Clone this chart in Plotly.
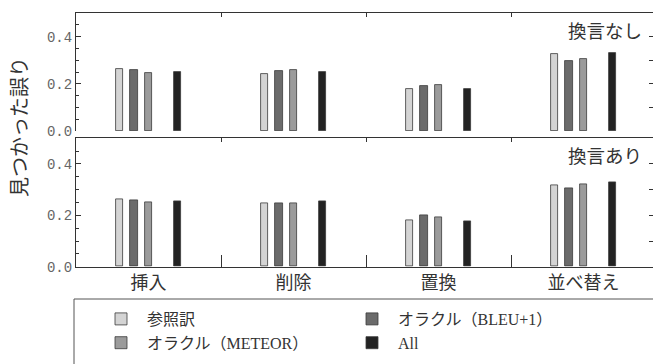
import plotly.graph_objects as go

categories = ["挿入", "削除", "置換", "並べ替え"]
series_names = ["参照訳", "オラクル（BLEU+1）", "オラクル（METEOR）", "All"]
series_colors = ["#d4d4d4", "#6b6b6b", "#9b9b9b", "#222222"]

# top panel: 換言なし
top_ref = [0.261, 0.242, 0.177, 0.325]
top_bleu = [0.257, 0.254, 0.192, 0.298]
top_meteor = [0.246, 0.257, 0.195, 0.304]
top_all = [0.252, 0.250, 0.177, 0.329]

# bottom panel: 換言あり
bot_ref = [0.264, 0.248, 0.180, 0.318]
bot_bleu = [0.257, 0.246, 0.201, 0.306]
bot_meteor = [0.251, 0.248, 0.192, 0.319]
bot_all = [0.253, 0.253, 0.177, 0.330]

panel_labels = ["換言なし", "換言あり"]
y_ticks = [0.0, 0.2, 0.4]
y_ticktext = ["0.0", "0.2", "0.4"]

W, H = 653, 364
L = 76
slot = [-2, -1, 0, 2]
bar_w = 0.052

fig = go.Figure()

panels = [
    ([top_ref, top_bleu, top_meteor, top_all], "x", "y", True),
    ([bot_ref, bot_bleu, bot_meteor, bot_all], "x", "y2", False),
]
for vals, xa, ya, show in panels:
    for i, (name, col, v) in enumerate(zip(series_names, series_colors, vals)):
        fig.add_trace(go.Bar(
            x=[c + slot[i] * 0.1 for c in range(len(categories))],
            y=v, width=bar_w, name=name, showlegend=show,
            marker=dict(color=col, line=dict(color="#3a3a3a", width=0.8)),
            xaxis=xa, yaxis=ya,
        ))

def py(px):
    return (H - px) / H

plot_w = W - L
xr = [-0.5, -0.5 + plot_w / 145.0]
top_dom = [py(131), py(13)]
bot_dom = [py(266.7), py(138.3)]

axcol = "#333333"
tickfont = dict(family="Liberation Mono", size=14, color="#666666")
bticks = [0.5, 1.5, 2.5]

fig.update_layout(
    width=W, height=H, autosize=False,
    margin=dict(l=L, r=0, t=0, b=0, autoexpand=False),
    plot_bgcolor="white", paper_bgcolor="white",
    bargap=0, barmode="overlay",
    font=dict(family="Liberation Serif, Noto Sans CJK JP", color="#333333"),
    # bottom x axis (category labels + boundary ticks)
    xaxis=dict(range=xr, domain=[0, 1], anchor="y2",
               tickvals=list(range(len(categories))), ticktext=categories,
               ticks="", showgrid=False, zeroline=False,
               showline=True, linecolor=axcol, linewidth=1,
               tickfont=dict(family="Noto Sans CJK JP", size=18, color="#333333"),
               minor=dict(tickvals=bticks, ticks="inside", ticklen=12,
                          tickcolor=axcol, showgrid=False)),
    # top panel bottom axis
    xaxis2=dict(range=xr, domain=[0, 1], anchor="y", matches="x",
                showticklabels=False, ticks="", showgrid=False, zeroline=False,
                showline=True, linecolor=axcol, linewidth=1,
                tickvals=bticks,
                minor=dict(tickvals=bticks, ticks="inside", ticklen=12,
                           tickcolor=axcol, showgrid=False)),
    # top borders
    xaxis3=dict(range=xr, overlaying="x", anchor="y", side="top",
                showticklabels=False, showgrid=False, zeroline=False,
                showline=True, linecolor=axcol, linewidth=1,
                tickvals=bticks, ticks="inside", ticklen=4, tickcolor=axcol),
    xaxis4=dict(range=xr, overlaying="x", anchor="y2", side="top",
                showticklabels=False, showgrid=False, zeroline=False,
                showline=True, linecolor=axcol, linewidth=1,
                tickvals=bticks, ticks="inside", ticklen=4, tickcolor=axcol),
    yaxis=dict(domain=top_dom, range=[0, 0.5], anchor="x",
               tickvals=y_ticks, ticktext=y_ticktext, tickfont=tickfont,
               ticks="inside", ticklen=5, tickcolor=axcol,
               showline=True, linecolor=axcol, linewidth=1,
               showgrid=False, zeroline=False,
               minor=dict(dtick=0.05, ticks="inside", ticklen=3, tickcolor=axcol, showgrid=False)),
    yaxis2=dict(domain=bot_dom, range=[0, 0.5], anchor="x",
                tickvals=y_ticks, ticktext=y_ticktext, tickfont=tickfont,
                ticks="inside", ticklen=5, tickcolor=axcol,
                showline=True, linecolor=axcol, linewidth=1,
                showgrid=False, zeroline=False,
                minor=dict(dtick=0.05, ticks="inside", ticklen=3, tickcolor=axcol, showgrid=False)),
    yaxis3=dict(range=[0, 0.5], overlaying="y", side="right", anchor="x",
                showticklabels=False, showline=False, showgrid=False, zeroline=False,
                tickvals=[0.1, 0.2, 0.3, 0.4], ticks="inside", ticklen=4, tickcolor=axcol),
    yaxis4=dict(range=[0, 0.5], overlaying="y2", side="right", anchor="x",
                showticklabels=False, showline=False, showgrid=False, zeroline=False,
                tickvals=[0.1, 0.2, 0.3, 0.4], ticks="inside", ticklen=4, tickcolor=axcol),
    legend=dict(orientation="h", x=(95 - L) / plot_w, xanchor="left",
                y=py(302), yanchor="top", itemwidth=42,
                entrywidth=194, entrywidthmode="pixels",
                font=dict(family="Liberation Serif, Noto Sans CJK JP", size=16, color="#333333"),
                bgcolor="rgba(0,0,0,0)", borderwidth=0, traceorder="normal"),
    showlegend=True,
)

# dummy traces so overlay axes render
fig.add_trace(go.Scatter(x=[None], y=[None], xaxis="x3", yaxis="y3", showlegend=False))
fig.add_trace(go.Scatter(x=[None], y=[None], xaxis="x4", yaxis="y4", showlegend=False))

# legend frame
fig.add_shape(type="rect", xref="paper", yref="paper",
              x0=(74 - L) / plot_w, x1=1.3, y0=-0.3, y1=py(299),
              line=dict(color="#555555", width=1), fillcolor="rgba(0,0,0,0)")

# panel labels
for lab, ypx in zip(panel_labels, [30, 155]):
    fig.add_annotation(text=lab, xref="paper", yref="paper",
                       x=(644 - L) / plot_w, y=py(ypx), xanchor="right", yanchor="middle",
                       showarrow=False,
                       font=dict(family="Noto Sans CJK JP", size=18.5, color="#333333"))

# y axis title
fig.add_annotation(text="見つかった誤り", xref="paper", yref="paper",
                   x=(18 - L) / plot_w, y=py(127), xanchor="center", yanchor="middle",
                   textangle=-90, showarrow=False,
                   font=dict(family="Noto Sans CJK JP", size=20, color="#333333"))

fig.write_html("out.html")
